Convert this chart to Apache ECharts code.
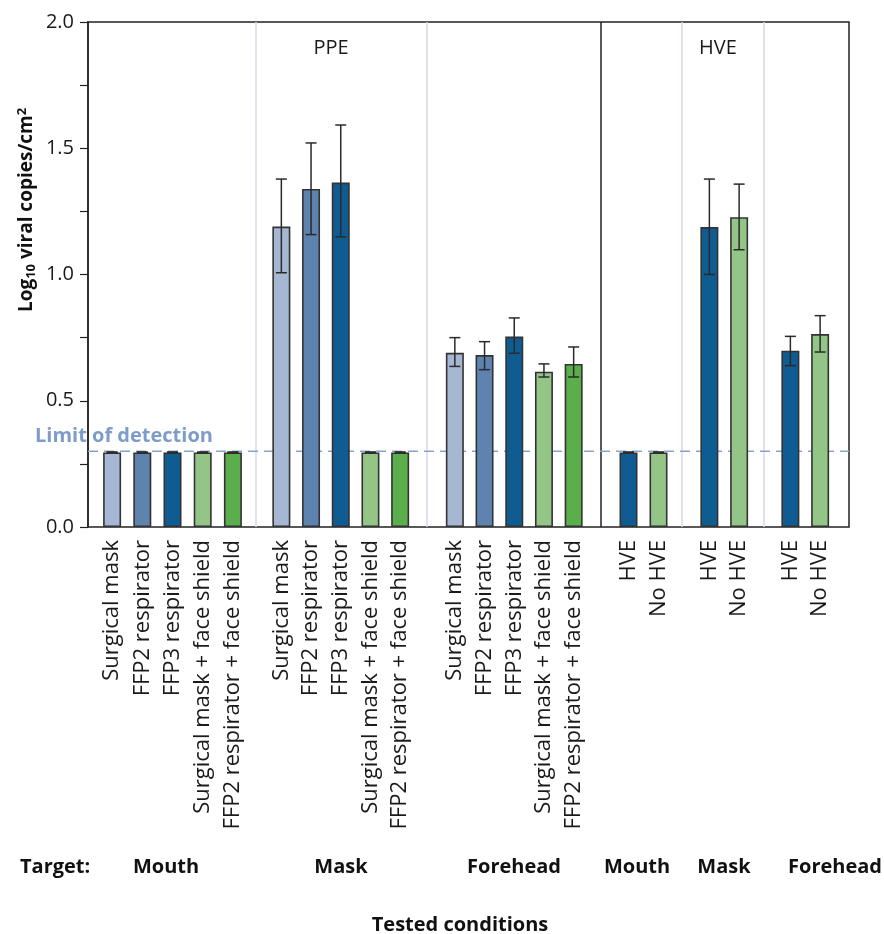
<!DOCTYPE html>
<html>
<head>
<meta charset="utf-8">
<script src="https://cdn.jsdelivr.net/npm/echarts@6/dist/echarts.min.js"></script>
<style>
  html, body { margin: 0; padding: 0; background: #fff; }
  #main { width: 884px; height: 934px; }
</style>
</head>
<body>
<div id="main"></div>
<script>
// categories
const ppeLabels = ['Surgical mask', 'FFP2 respirator', 'FFP3 respirator', 'Surgical mask + face shield', 'FFP2 respirator + face shield'];
const hveLabels = ['HVE', 'No HVE'];
const targetNames = ['Mouth', 'Mask', 'Forehead', 'Mouth', 'Mask', 'Forehead'];
const yTicks = [0, 0.5, 1.0, 1.5, 2.0];
const limitOfDetection = 0.3;

// PPE experiment, mean and error bar ends
const ppeMouth = [0.295, 0.295, 0.295, 0.295, 0.295];
const ppeMouthLow = [0.295, 0.295, 0.295, 0.295, 0.295];
const ppeMouthHigh = [0.297, 0.297, 0.297, 0.297, 0.297];
const ppeMask = [1.19, 1.339, 1.364, 0.295, 0.295];
const ppeMaskLow = [1.007, 1.158, 1.149, 0.295, 0.295];
const ppeMaskHigh = [1.378, 1.521, 1.592, 0.297, 0.297];
const ppeForehead = [0.69, 0.681, 0.754, 0.615, 0.646];
const ppeForeheadLow = [0.636, 0.623, 0.688, 0.594, 0.594];
const ppeForeheadHigh = [0.75, 0.734, 0.828, 0.646, 0.713];

// HVE experiment
const hveMouth = [0.295, 0.295];
const hveMouthLow = [0.295, 0.295];
const hveMouthHigh = [0.297, 0.297];
const hveMask = [1.188, 1.227];
const hveMaskLow = [1.0, 1.098];
const hveMaskHigh = [1.378, 1.358];
const hveForehead = [0.698, 0.764];
const hveForeheadLow = [0.639, 0.693];
const hveForeheadHigh = [0.755, 0.837];

const ppeColors = ['#a6b7d3', '#5f83af', '#0f5c93', '#93c587', '#5aae4c'];
const hveColors = ['#0f5c93', '#93c587'];

const FONT = '"Open Sans", "DejaVu Sans", sans-serif';
const TOP = 22, HEIGHT = 505;

const panels = [
  {labels: ppeLabels, colors: ppeColors, values: ppeMouth, low: ppeMouthLow, high: ppeMouthHigh, left: 97, right: 248},
  {labels: ppeLabels, colors: ppeColors, values: ppeMask, low: ppeMaskLow, high: ppeMaskHigh, left: 266.5, right: 415},
  {labels: ppeLabels, colors: ppeColors, values: ppeForehead, low: ppeForeheadLow, high: ppeForeheadHigh, left: 440, right: 588.5},
  {labels: hveLabels, colors: hveColors, values: hveMouth, low: hveMouthLow, high: hveMouthHigh, left: 613.5, right: 673.5},
  {labels: hveLabels, colors: hveColors, values: hveMask, low: hveMaskLow, high: hveMaskHigh, left: 694.5, right: 754},
  {labels: hveLabels, colors: hveColors, values: hveForehead, low: hveForeheadLow, high: hveForeheadHigh, left: 775.5, right: 835}
];
const targetCenters = [166, 341, 514, 637, 724, 835];

const grids = [{left: 88, top: TOP, width: 761, height: HEIGHT, show: true, borderColor: '#222', borderWidth: 1.5}];
const xAxes = [{type: 'value', gridIndex: 0, min: 0, max: 1, show: false}];
const yAxes = [{
  type: 'value', gridIndex: 0, min: yTicks[0], max: yTicks[yTicks.length - 1], interval: 0.5,
  axisLine: {show: true, lineStyle: {color: '#222', width: 1.5}},
  axisTick: {show: true, length: 8, lineStyle: {color: '#222', width: 1.2}},
  minorTick: {show: true, splitNumber: 2, length: 8, lineStyle: {color: '#222', width: 1.2}},
  splitLine: {show: false},
  axisLabel: {formatter: v => v.toFixed(1), fontSize: 20, color: '#1a1a1a', margin: 14, fontFamily: FONT}
}];
const series = [{
  type: 'line', xAxisIndex: 0, yAxisIndex: 0, silent: true, symbol: 'none', z: 1,
  data: [[0, limitOfDetection], [1, limitOfDetection]],
  lineStyle: {type: [10, 6], color: '#8aa3c7', width: 1.5}
}];

panels.forEach((p, i) => {
  const g = i + 1;
  grids.push({left: p.left, width: p.right - p.left, top: TOP, height: HEIGHT});
  xAxes.push({
    type: 'category', gridIndex: g, data: p.labels,
    axisLine: {show: false}, axisTick: {show: false},
    axisLabel: {rotate: 90, fontSize: 22, color: '#1a1a1a', margin: 13, fontFamily: FONT, interval: 0}
  });
  yAxes.push({type: 'value', gridIndex: g, min: 0, max: 2, show: false});
  series.push({
    type: 'bar', xAxisIndex: g, yAxisIndex: g, barWidth: 18, z: 2,
    itemStyle: {borderColor: '#333', borderWidth: 1.6},
    data: p.values.map((v, j) => ({value: v, itemStyle: {color: p.colors[j]}}))
  });
  series.push({
    type: 'custom', xAxisIndex: g, yAxisIndex: g, z: 3,
    data: p.values.map((v, j) => [j, p.low[j], p.high[j]]),
    encode: {x: 0, y: [1, 2]},
    renderItem: (params, api) => {
      const hi = api.coord([api.value(0), api.value(2)]);
      const lo = api.coord([api.value(0), api.value(1)]);
      const w = 5.5;
      const st = {stroke: '#2a2a2a', lineWidth: 1.5};
      return {type: 'group', children: [
        {type: 'line', shape: {x1: hi[0], y1: hi[1], x2: lo[0], y2: lo[1]}, style: st},
        {type: 'line', shape: {x1: hi[0] - w, y1: hi[1], x2: hi[0] + w, y2: hi[1]}, style: st},
        {type: 'line', shape: {x1: lo[0] - w, y1: lo[1], x2: lo[0] + w, y2: lo[1]}, style: st}
      ]};
    }
  });
});

const graphic = [];
[256, 427, 682, 764].forEach(x => graphic.push({
  type: 'line', z: 0, shape: {x1: x, y1: TOP, x2: x, y2: TOP + HEIGHT},
  style: {stroke: '#d3daea', lineWidth: 1.5}
}));
graphic.push({type: 'line', z: 0, shape: {x1: 601, y1: TOP, x2: 601, y2: TOP + HEIGHT}, style: {stroke: '#222', lineWidth: 1.5}});
graphic.push({type: 'text', x: 331, y: 48, style: {text: 'PPE', font: '20px ' + FONT, fill: '#1a1a1a', textAlign: 'center', textVerticalAlign: 'middle'}});
graphic.push({type: 'text', x: 718, y: 48, style: {text: 'HVE', font: '20px ' + FONT, fill: '#1a1a1a', textAlign: 'center', textVerticalAlign: 'middle'}});
graphic.push({type: 'text', x: 35, y: 436, style: {text: 'Limit of detection', font: 'bold 20px ' + FONT, fill: '#7d9cc9', textAlign: 'left', textVerticalAlign: 'middle'}});
graphic.push({type: 'text', x: 20, y: 867, style: {text: 'Target:', font: 'bold 20px ' + FONT, fill: '#111', textAlign: 'left', textVerticalAlign: 'middle'}});
targetNames.forEach((t, i) => graphic.push({
  type: 'text', x: targetCenters[i], y: 867,
  style: {text: t, font: 'bold 20px ' + FONT, fill: '#111', textAlign: 'center', textVerticalAlign: 'middle'}
}));
graphic.push({type: 'text', x: 460, y: 925, style: {text: 'Tested conditions', font: 'bold 20px ' + FONT, fill: '#111', textAlign: 'center', textVerticalAlign: 'middle'}});
graphic.push({
  type: 'text', x: 27, y: 210, rotation: Math.PI / 2,
  style: {
    text: '{b|Log}{s|10}{b| viral copies/cm}{p|2}',
    textAlign: 'center', textVerticalAlign: 'middle', fill: '#111',
    rich: {
      b: {fontSize: 19, fontWeight: 'bold', fontFamily: FONT, fill: '#111'},
      s: {fontSize: 13, fontWeight: 'bold', fontFamily: FONT, fill: '#111', padding: [9, 0, 0, 0]},
      p: {fontSize: 13, fontWeight: 'bold', fontFamily: FONT, fill: '#111', padding: [0, 0, 9, 0]}
    }
  }
});

const chart = echarts.init(document.getElementById('main'));
chart.setOption({
  animation: false,
  backgroundColor: '#fff',
  grid: grids,
  xAxis: xAxes,
  yAxis: yAxes,
  series: series,
  graphic: graphic
});
</script>
</body>
</html>
